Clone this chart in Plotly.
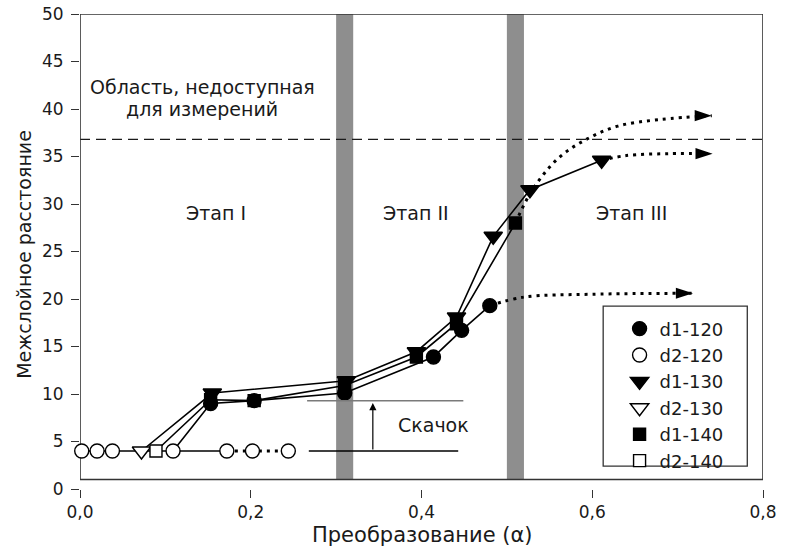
import plotly.graph_objects as go

# Conversion (alpha) vs. interlayer spacing for each sample series
d1_120_x = [0.153, 0.204, 0.310, 0.414, 0.447, 0.480]
d1_120_y = [9.0, 9.3, 10.1, 13.9, 16.7, 19.3]
d1_120_tail_x = [0.480, 0.520, 0.600, 0.718]
d1_120_tail_y = [19.3, 20.2, 20.5, 20.6]

d1_130_x = [0.155, 0.312, 0.394, 0.441, 0.484, 0.527, 0.611]
d1_130_y = [10.1, 11.4, 14.45, 18.1, 26.6, 31.5, 34.6]
d1_130_tail_x = [0.611, 0.640, 0.690, 0.741]
d1_130_tail_y = [34.6, 35.1, 35.3, 35.3]

d1_140_x = [0.153, 0.204, 0.310, 0.394, 0.441, 0.510]
d1_140_y = [9.4, 9.3, 10.9, 13.9, 17.4, 28.0]
d1_140_tail_x = [0.510, 0.530, 0.560, 0.593, 0.630, 0.680, 0.740]
d1_140_tail_y = [28.0, 31.5, 34.8, 36.8, 38.2, 38.9, 39.3]

d2_120_x = [0.002, 0.020, 0.038, 0.109, 0.172, 0.202, 0.244]
d2_120_y = [4.0, 4.0, 4.0, 4.0, 4.0, 4.0, 4.0]
d2_120_tail_x = [0.172, 0.202, 0.244, 0.252]
d2_120_tail_y = [4.0, 4.0, 4.0, 4.0]

d2_130_x = [0.072]
d2_130_y = [4.0]
d2_140_x = [0.089]
d2_140_y = [4.0]

# Stage boundaries (shaded bands), measurement limit, jump markers
stage_bands = [(0.300, 0.320), (0.500, 0.520)]
limit_y = 36.8
jump_low, jump_high = 4.0, 9.3
jump_x = [0.268, 0.447]
jump_arrow_x = 0.343

x_ticks = [0.0, 0.2, 0.4, 0.6, 0.8]
y_ticks = [0, 5, 10, 15, 20, 25, 30, 35, 40, 45, 50]

FONT = "DejaVu Sans, Liberation Sans, Arial, sans-serif"
INK = "#1a1a1a"
TXT = 19

fig = go.Figure()

solid = dict(color="black", width=1.6)
dotted = dict(color="black", width=3, dash="3px,5px", shape="spline")

# baseline of the second (d2) spacing
fig.add_trace(go.Scatter(x=d2_120_x[:5], y=d2_120_y[:5], mode="lines",
                         line=solid, showlegend=False, hoverinfo="skip"))
fig.add_trace(go.Scatter(x=d2_120_tail_x, y=d2_120_tail_y, mode="lines",
                         line=dict(color="black", width=3, dash="3px,5px"),
                         showlegend=False, hoverinfo="skip"))

# d1 curves, each starting from the matching d2 point
fig.add_trace(go.Scatter(x=[d2_120_x[3]] + d1_120_x, y=[d2_120_y[3]] + d1_120_y,
                         mode="lines", line=solid, showlegend=False, hoverinfo="skip"))
fig.add_trace(go.Scatter(x=d2_130_x + d1_130_x, y=d2_130_y + d1_130_y,
                         mode="lines", line=solid, showlegend=False, hoverinfo="skip"))
fig.add_trace(go.Scatter(x=d2_140_x + d1_140_x, y=d2_140_y + d1_140_y,
                         mode="lines", line=solid, showlegend=False, hoverinfo="skip"))

# dotted extrapolations into stage III with arrowheads
for tx, ty in [(d1_120_tail_x, d1_120_tail_y),
               (d1_130_tail_x, d1_130_tail_y),
               (d1_140_tail_x, d1_140_tail_y)]:
    fig.add_trace(go.Scatter(x=tx, y=ty, mode="lines", line=dotted,
                             showlegend=False, hoverinfo="skip", cliponaxis=False))
    fig.add_trace(go.Scatter(x=[tx[-1]], y=[ty[-1]], mode="markers",
                             marker=dict(symbol="arrow", angle=90, size=18, color="black",
                                         line=dict(width=0)),
                             showlegend=False, hoverinfo="skip", cliponaxis=False))

# marker series (legend entries)
series = [
    ("d1-120", d1_120_x, d1_120_y, "circle", "black", 14),
    ("d2-120", d2_120_x, d2_120_y, "circle", "white", 14),
    ("d1-130", d1_130_x, d1_130_y, "triangle-down", "black", 16),
    ("d2-130", d2_130_x, d2_130_y, "triangle-down", "white", 16),
    ("d1-140", d1_140_x, d1_140_y, "square", "black", 12),
    ("d2-140", d2_140_x, d2_140_y, "square", "white", 12),
]
for name, xs, ys, sym, fill, size in series:
    fig.add_trace(go.Scatter(
        x=xs, y=ys, mode="markers", name=name,
        marker=dict(symbol=sym, size=size, color=fill,
                    line=dict(color="black", width=1.4)),
        cliponaxis=False))

shapes = []
for x0, x1 in stage_bands:
    shapes.append(dict(type="rect", xref="x", yref="y", x0=x0, x1=x1, y0=1, y1=50,
                       fillcolor="#8e8e8e", line=dict(width=0), layer="below"))
shapes.append(dict(type="line", xref="x", yref="y", x0=0, x1=0.8, y0=limit_y, y1=limit_y,
                   line=dict(color=INK, width=1.4, dash="10px,6px"), layer="below"))
shapes.append(dict(type="line", xref="x", yref="y", x0=jump_x[0] - 0.002, x1=jump_x[1] + 0.002,
                   y0=jump_high, y1=jump_high, line=dict(color="#7a7a7a", width=1.5)))
shapes.append(dict(type="line", xref="x", yref="y", x0=jump_x[0], x1=jump_x[1] - 0.004,
                   y0=jump_low, y1=jump_low, line=dict(color="black", width=1.3)))
# plot frame
shapes.append(dict(type="rect", xref="x", yref="y", x0=0, x1=0.8, y0=1, y1=50,
                   line=dict(color="#333333", width=1.6), layer="below"))
# legend frame
shapes.append(dict(type="rect", xref="paper", yref="paper",
                   x0=0.766, x1=0.977, y0=0.048, y1=0.385,
                   line=dict(color="#333333", width=1.3)))

annotations = [
    dict(x=0.143, y=42.3, text="Область, недоступная", showarrow=False),
    dict(x=0.143, y=40.0, text="для измерений", showarrow=False),
    dict(x=0.159, y=29.1, text="Этап I", showarrow=False),
    dict(x=0.394, y=29.1, text="Этап II", showarrow=False),
    dict(x=0.646, y=29.1, text="Этап III", showarrow=False),
    dict(x=0.414, y=6.7, text="Скачок", showarrow=False),
    dict(x=jump_arrow_x, y=jump_high - 0.25, ax=jump_arrow_x, ay=jump_low,
         xref="x", yref="y", axref="x", ayref="y", text="", showarrow=True,
         arrowhead=2, arrowsize=1.2, arrowwidth=1.2, arrowcolor="black"),
    # axis titles
    dict(x=-0.082, y=0.495, xref="paper", yref="paper", textangle=-90,
         xanchor="center", yanchor="middle",
         text="Межслойное расстояние", showarrow=False),
    dict(x=0.501, y=-0.097, xref="paper", yref="paper",
         xanchor="center", yanchor="middle",
         text="Преобразование (α)", showarrow=False,
         font=dict(family=FONT, size=21, color=INK)),
]
for a in annotations:
    a.setdefault("xref", "x")
    a.setdefault("yref", "y")
    a.setdefault("font", dict(family=FONT, size=TXT, color=INK))

fig.update_layout(
    width=785, height=550,
    margin=dict(l=80, r=22, t=14, b=61),
    paper_bgcolor="white", plot_bgcolor="white",
    separators=", ",
    font=dict(family=FONT, size=17, color=INK),
    shapes=shapes, annotations=annotations,
    showlegend=True,
    legend=dict(x=0.79, y=0.376, xanchor="left", yanchor="top",
                bgcolor="rgba(0,0,0,0)", borderwidth=0,
                traceorder="normal",
                font=dict(family=FONT, size=18, color=INK)),
    xaxis=dict(range=[0, 0.8], tickvals=x_ticks, tickformat=".1f",
               ticks="outside", ticklen=8, tickwidth=1.3, tickcolor="#333",
               tickfont=dict(family=FONT, size=17, color=INK),
               showline=False, showgrid=False, zeroline=False, automargin=False),
    yaxis=dict(range=[0, 50], tickvals=y_ticks,
               ticks="outside", ticklen=8, tickwidth=1.3, tickcolor="#333",
               tickfont=dict(family=FONT, size=17, color=INK),
               ticklabelstandoff=4,
               showline=False, showgrid=False, zeroline=False, automargin=False),
)

fig.write_html("out.html")
